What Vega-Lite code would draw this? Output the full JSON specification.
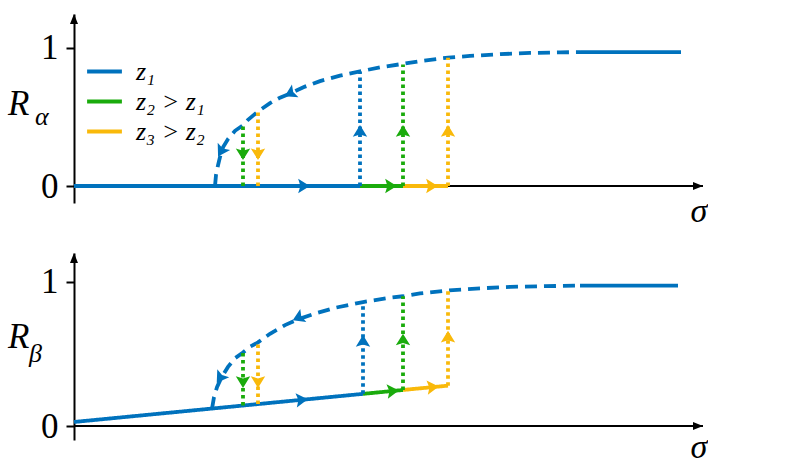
{
  "$schema": "https://vega.github.io/schema/vega-lite/v6.json",
  "padding": {"left": 8, "top": 14, "right": 0, "bottom": 0},
  "spacing": 50,
  "bounds": "flush",
  "config": {"view": {"stroke": null}},
  "resolve": {"scale": {"color": "independent", "strokeDash": "independent", "x": "independent", "y": "independent"}, "legend": {"color": "independent", "strokeDash": "independent"}},
  "datasets": {
    "topLines": [
      {"seg": "base_b", "i": 0, "s": 0, "r": 0, "series": "z₁", "sty": "solid"},
      {"seg": "base_b", "i": 1, "s": 2.86, "r": 0, "series": "z₁", "sty": "solid"},
      {"seg": "base_g", "i": 0, "s": 2.86, "r": 0, "series": "z₂ > z₁", "sty": "solid"},
      {"seg": "base_g", "i": 1, "s": 3.29, "r": 0, "series": "z₂ > z₁", "sty": "solid"},
      {"seg": "base_y", "i": 0, "s": 3.29, "r": 0, "series": "z₃ > z₂", "sty": "solid"},
      {"seg": "base_y", "i": 1, "s": 3.74, "r": 0, "series": "z₃ > z₂", "sty": "solid"},
      {"seg": "plat", "i": 0, "s": 5.07, "r": 0.97, "series": "z₁", "sty": "solid"},
      {"seg": "plat", "i": 1, "s": 6.07, "r": 0.97, "series": "z₁", "sty": "solid"},
      {"seg": "curve", "i": 0, "s": 1.41, "r": 0, "series": "z₁", "sty": "dashed"},
      {"seg": "curve", "i": 1, "s": 1.42, "r": 0.08, "series": "z₁", "sty": "dashed"},
      {"seg": "curve", "i": 2, "s": 1.44, "r": 0.15, "series": "z₁", "sty": "dashed"},
      {"seg": "curve", "i": 3, "s": 1.46, "r": 0.21, "series": "z₁", "sty": "dashed"},
      {"seg": "curve", "i": 4, "s": 1.49, "r": 0.28, "series": "z₁", "sty": "dashed"},
      {"seg": "curve", "i": 5, "s": 1.54, "r": 0.34, "series": "z₁", "sty": "dashed"},
      {"seg": "curve", "i": 6, "s": 1.61, "r": 0.4, "series": "z₁", "sty": "dashed"},
      {"seg": "curve", "i": 7, "s": 1.69, "r": 0.44, "series": "z₁", "sty": "dashed"},
      {"seg": "curve", "i": 8, "s": 1.74, "r": 0.48, "series": "z₁", "sty": "dashed"},
      {"seg": "curve", "i": 9, "s": 1.84, "r": 0.54, "series": "z₁", "sty": "dashed"},
      {"seg": "curve", "i": 10, "s": 1.96, "r": 0.6, "series": "z₁", "sty": "dashed"},
      {"seg": "curve", "i": 11, "s": 2.06, "r": 0.64, "series": "z₁", "sty": "dashed"},
      {"seg": "curve", "i": 12, "s": 2.16, "r": 0.67, "series": "z₁", "sty": "dashed"},
      {"seg": "curve", "i": 13, "s": 2.31, "r": 0.72, "series": "z₁", "sty": "dashed"},
      {"seg": "curve", "i": 14, "s": 2.46, "r": 0.76, "series": "z₁", "sty": "dashed"},
      {"seg": "curve", "i": 15, "s": 2.66, "r": 0.8, "series": "z₁", "sty": "dashed"},
      {"seg": "curve", "i": 16, "s": 2.86, "r": 0.83, "series": "z₁", "sty": "dashed"},
      {"seg": "curve", "i": 17, "s": 3.06, "r": 0.86, "series": "z₁", "sty": "dashed"},
      {"seg": "curve", "i": 18, "s": 3.29, "r": 0.885, "series": "z₁", "sty": "dashed"},
      {"seg": "curve", "i": 19, "s": 3.46, "r": 0.905, "series": "z₁", "sty": "dashed"},
      {"seg": "curve", "i": 20, "s": 3.74, "r": 0.93, "series": "z₁", "sty": "dashed"},
      {"seg": "curve", "i": 21, "s": 3.96, "r": 0.942, "series": "z₁", "sty": "dashed"},
      {"seg": "curve", "i": 22, "s": 4.26, "r": 0.955, "series": "z₁", "sty": "dashed"},
      {"seg": "curve", "i": 23, "s": 4.56, "r": 0.964, "series": "z₁", "sty": "dashed"},
      {"seg": "curve", "i": 24, "s": 4.86, "r": 0.968, "series": "z₁", "sty": "dashed"},
      {"seg": "curve", "i": 25, "s": 5.07, "r": 0.97, "series": "z₁", "sty": "dashed"},
      {"seg": "up_b", "i": 0, "s": 2.86, "r": 0, "series": "z₁", "sty": "dotted"},
      {"seg": "up_b", "i": 1, "s": 2.86, "r": 0.83, "series": "z₁", "sty": "dotted"},
      {"seg": "up_g", "i": 0, "s": 3.29, "r": 0, "series": "z₂ > z₁", "sty": "dotted"},
      {"seg": "up_g", "i": 1, "s": 3.29, "r": 0.88, "series": "z₂ > z₁", "sty": "dotted"},
      {"seg": "up_y", "i": 0, "s": 3.74, "r": 0, "series": "z₃ > z₂", "sty": "dotted"},
      {"seg": "up_y", "i": 1, "s": 3.74, "r": 0.93, "series": "z₃ > z₂", "sty": "dotted"},
      {"seg": "dn_g", "i": 0, "s": 1.69, "r": 0, "series": "z₂ > z₁", "sty": "dotted"},
      {"seg": "dn_g", "i": 1, "s": 1.69, "r": 0.44, "series": "z₂ > z₁", "sty": "dotted"},
      {"seg": "dn_y", "i": 0, "s": 1.84, "r": 0, "series": "z₃ > z₂", "sty": "dotted"},
      {"seg": "dn_y", "i": 1, "s": 1.84, "r": 0.54, "series": "z₃ > z₂", "sty": "dotted"}
    ],
    "botLines": [
      {"seg": "base_b", "i": 0, "s": 0, "r": 0.028, "series": "z₁", "sty": "solid"},
      {"seg": "base_b", "i": 1, "s": 2.89, "r": 0.223, "series": "z₁", "sty": "solid"},
      {"seg": "base_g", "i": 0, "s": 2.89, "r": 0.223, "series": "z₂ > z₁", "sty": "solid"},
      {"seg": "base_g", "i": 1, "s": 3.29, "r": 0.25, "series": "z₂ > z₁", "sty": "solid"},
      {"seg": "base_y", "i": 0, "s": 3.29, "r": 0.25, "series": "z₃ > z₂", "sty": "solid"},
      {"seg": "base_y", "i": 1, "s": 3.74, "r": 0.28, "series": "z₃ > z₂", "sty": "solid"},
      {"seg": "plat", "i": 0, "s": 5.06, "r": 0.974, "series": "z₁", "sty": "solid"},
      {"seg": "plat", "i": 1, "s": 6.04, "r": 0.974, "series": "z₁", "sty": "solid"},
      {"seg": "curve", "i": 0, "s": 1.38, "r": 0.12, "series": "z₁", "sty": "dashed"},
      {"seg": "curve", "i": 1, "s": 1.4, "r": 0.2, "series": "z₁", "sty": "dashed"},
      {"seg": "curve", "i": 2, "s": 1.43, "r": 0.27, "series": "z₁", "sty": "dashed"},
      {"seg": "curve", "i": 3, "s": 1.47, "r": 0.33, "series": "z₁", "sty": "dashed"},
      {"seg": "curve", "i": 4, "s": 1.54, "r": 0.41, "series": "z₁", "sty": "dashed"},
      {"seg": "curve", "i": 5, "s": 1.61, "r": 0.47, "series": "z₁", "sty": "dashed"},
      {"seg": "curve", "i": 6, "s": 1.69, "r": 0.51, "series": "z₁", "sty": "dashed"},
      {"seg": "curve", "i": 7, "s": 1.76, "r": 0.55, "series": "z₁", "sty": "dashed"},
      {"seg": "curve", "i": 8, "s": 1.84, "r": 0.58, "series": "z₁", "sty": "dashed"},
      {"seg": "curve", "i": 9, "s": 1.96, "r": 0.64, "series": "z₁", "sty": "dashed"},
      {"seg": "curve", "i": 10, "s": 2.11, "r": 0.7, "series": "z₁", "sty": "dashed"},
      {"seg": "curve", "i": 11, "s": 2.24, "r": 0.74, "series": "z₁", "sty": "dashed"},
      {"seg": "curve", "i": 12, "s": 2.41, "r": 0.78, "series": "z₁", "sty": "dashed"},
      {"seg": "curve", "i": 13, "s": 2.61, "r": 0.82, "series": "z₁", "sty": "dashed"},
      {"seg": "curve", "i": 14, "s": 2.89, "r": 0.86, "series": "z₁", "sty": "dashed"},
      {"seg": "curve", "i": 15, "s": 3.16, "r": 0.89, "series": "z₁", "sty": "dashed"},
      {"seg": "curve", "i": 16, "s": 3.29, "r": 0.9, "series": "z₁", "sty": "dashed"},
      {"seg": "curve", "i": 17, "s": 3.46, "r": 0.92, "series": "z₁", "sty": "dashed"},
      {"seg": "curve", "i": 18, "s": 3.74, "r": 0.94, "series": "z₁", "sty": "dashed"},
      {"seg": "curve", "i": 19, "s": 4.06, "r": 0.955, "series": "z₁", "sty": "dashed"},
      {"seg": "curve", "i": 20, "s": 4.36, "r": 0.965, "series": "z₁", "sty": "dashed"},
      {"seg": "curve", "i": 21, "s": 4.71, "r": 0.97, "series": "z₁", "sty": "dashed"},
      {"seg": "curve", "i": 22, "s": 5.06, "r": 0.974, "series": "z₁", "sty": "dashed"},
      {"seg": "up_b", "i": 0, "s": 2.89, "r": 0.223, "series": "z₁", "sty": "dotted"},
      {"seg": "up_b", "i": 1, "s": 2.89, "r": 0.86, "series": "z₁", "sty": "dotted"},
      {"seg": "up_g", "i": 0, "s": 3.29, "r": 0.25, "series": "z₂ > z₁", "sty": "dotted"},
      {"seg": "up_g", "i": 1, "s": 3.29, "r": 0.9, "series": "z₂ > z₁", "sty": "dotted"},
      {"seg": "up_y", "i": 0, "s": 3.74, "r": 0.28, "series": "z₃ > z₂", "sty": "dotted"},
      {"seg": "up_y", "i": 1, "s": 3.74, "r": 0.94, "series": "z₃ > z₂", "sty": "dotted"},
      {"seg": "dn_g", "i": 0, "s": 1.69, "r": 0.142, "series": "z₂ > z₁", "sty": "dotted"},
      {"seg": "dn_g", "i": 1, "s": 1.69, "r": 0.51, "series": "z₂ > z₁", "sty": "dotted"},
      {"seg": "dn_y", "i": 0, "s": 1.84, "r": 0.152, "series": "z₃ > z₂", "sty": "dotted"},
      {"seg": "dn_y", "i": 1, "s": 1.84, "r": 0.58, "series": "z₃ > z₂", "sty": "dotted"}
    ],
    "topArrows": [
      {"s": 2.3, "r": 0, "ang": 0, "series": "z₁"},
      {"s": 3.17, "r": 0, "ang": 0, "series": "z₂ > z₁"},
      {"s": 3.58, "r": 0, "ang": 0, "series": "z₃ > z₂"},
      {"s": 2.86, "r": 0.4, "ang": -90, "series": "z₁"},
      {"s": 3.29, "r": 0.4, "ang": -90, "series": "z₂ > z₁"},
      {"s": 3.74, "r": 0.4, "ang": -90, "series": "z₃ > z₂"},
      {"s": 1.69, "r": 0.23, "ang": 90, "series": "z₂ > z₁"},
      {"s": 1.84, "r": 0.23, "ang": 90, "series": "z₃ > z₂"},
      {"s": 1.47, "r": 0.25, "ang": 120, "series": "z₁"},
      {"s": 2.16, "r": 0.67, "ang": 153, "series": "z₁"}
    ],
    "botArrows": [
      {"s": 2.28, "r": 0.182, "ang": -5.5, "series": "z₁"},
      {"s": 3.19, "r": 0.243, "ang": -5.5, "series": "z₂ > z₁"},
      {"s": 3.59, "r": 0.27, "ang": -5.5, "series": "z₃ > z₂"},
      {"s": 2.89, "r": 0.59, "ang": -90, "series": "z₁"},
      {"s": 3.29, "r": 0.6, "ang": -90, "series": "z₂ > z₁"},
      {"s": 3.74, "r": 0.62, "ang": -90, "series": "z₃ > z₂"},
      {"s": 1.69, "r": 0.305, "ang": 90, "series": "z₂ > z₁"},
      {"s": 1.84, "r": 0.305, "ang": 90, "series": "z₃ > z₂"},
      {"s": 1.46, "r": 0.333, "ang": 124, "series": "z₁"},
      {"s": 2.24, "r": 0.75, "ang": 155, "series": "z₁"}
    ]
  },
  "vconcat": [
    {
      "width": 629,
      "height": 189,
      "layer": [
        {
          "data": {"values": [{"s": 0, "s2": 6.29, "r": 0}]},
          "mark": {"type": "rule", "color": "black", "strokeWidth": 2},
          "encoding": {
            "x": {"field": "s", "type": "quantitative", "scale": {"domain": [0, 6.29], "nice": false, "zero": false}, "axis": null},
            "x2": {"field": "s2"},
            "y": {"field": "r", "type": "quantitative", "scale": {"domain": [-0.123, 1.246], "nice": false, "zero": false},
              "axis": {"values": [0, 1], "format": "d", "title": null, "grid": false, "domainColor": "black", "domainWidth": 2, "tickColor": "black", "tickWidth": 2, "tickSize": 8, "labelFont": "Liberation Serif", "labelFontSize": 35, "labelColor": "black", "labelPadding": 8}}
          }
        },
        {
          "data": {"values": [{"s": 0, "r": 1.246, "ang": -90}, {"s": 6.29, "r": 0, "ang": 0}]},
          "mark": {"type": "point", "filled": true, "color": "black", "opacity": 1, "shape": "M0,0L-1,-0.4L-1,0.4Z", "size": 400},
          "encoding": {
            "x": {"field": "s", "type": "quantitative"},
            "y": {"field": "r", "type": "quantitative"},
            "angle": {"field": "ang", "type": "quantitative", "scale": null}
          }
        },
        {
          "data": {"name": "topLines"},
          "mark": {"type": "line", "strokeWidth": 3.8, "strokeCap": "butt"},
          "encoding": {
            "x": {"field": "s", "type": "quantitative"},
            "y": {"field": "r", "type": "quantitative"},
            "detail": {"field": "seg"},
            "order": {"field": "i", "type": "quantitative"},
            "color": {"field": "series", "type": "nominal",
              "scale": {"domain": ["z₁", "z₂ > z₁", "z₃ > z₂"], "range": ["#0072bd", "#1aab0c", "#f9b90a"]},
              "legend": {"orient": "none", "legendX": 14, "legendY": 41, "title": null, "symbolType": "M-1.2,0H1.2", "symbolStrokeWidth": 4, "symbolSize": 841, "labelFont": "Liberation Serif", "labelFontStyle": "italic", "labelFontSize": 26, "labelColor": "black", "labelOffset": 15, "rowPadding": 0, "padding": 0}},
            "strokeDash": {"field": "sty", "type": "nominal", "scale": {"domain": ["solid", "dashed", "dotted"], "range": [[1, 0], [12, 7], [3.5, 3.5]]}, "legend": null}
          }
        },
        {
          "data": {"name": "topArrows"},
          "mark": {"type": "point", "filled": true, "opacity": 1, "shape": "M0.65,0L-0.65,-0.8L-0.4,0L-0.65,0.8Z", "size": 324},
          "encoding": {
            "x": {"field": "s", "type": "quantitative"},
            "y": {"field": "r", "type": "quantitative"},
            "angle": {"field": "ang", "type": "quantitative", "scale": null},
            "color": {"field": "series", "type": "nominal"}
          }
        },
        {
          "data": {"values": [{"s": -0.66, "r": 0.514, "t": "R"}]},
          "mark": {"type": "text", "font": "Liberation Serif", "fontStyle": "italic", "fontSize": 35, "align": "left", "baseline": "alphabetic", "color": "black"},
          "encoding": {"x": {"field": "s", "type": "quantitative"}, "y": {"field": "r", "type": "quantitative"}, "text": {"field": "t"}}
        },
        {
          "data": {"values": [{"s": -0.39, "r": 0.445, "t": "α"}]},
          "mark": {"type": "text", "font": "Liberation Serif", "fontStyle": "italic", "fontSize": 26, "align": "left", "baseline": "alphabetic", "color": "black"},
          "encoding": {"x": {"field": "s", "type": "quantitative"}, "y": {"field": "r", "type": "quantitative"}, "text": {"field": "t"}}
        },
        {
          "data": {"values": [{"s": 6.25, "r": -0.26, "t": "σ"}]},
          "mark": {"type": "text", "font": "Liberation Serif", "fontStyle": "italic", "fontSize": 34, "align": "center", "baseline": "alphabetic", "color": "black"},
          "encoding": {"x": {"field": "s", "type": "quantitative"}, "y": {"field": "r", "type": "quantitative"}, "text": {"field": "t"}}
        }
      ]
    },
    {
      "width": 629,
      "height": 187,
      "layer": [
        {
          "data": {"values": [{"s": 0, "s2": 6.29, "r": 0}]},
          "mark": {"type": "rule", "color": "black", "strokeWidth": 2},
          "encoding": {
            "x": {"field": "s", "type": "quantitative", "scale": {"domain": [0, 6.29], "nice": false, "zero": false}, "axis": null},
            "x2": {"field": "s2"},
            "y": {"field": "r", "type": "quantitative", "scale": {"domain": [-0.097, 1.2], "nice": false, "zero": false},
              "axis": {"values": [0, 1], "format": "d", "title": null, "grid": false, "domainColor": "black", "domainWidth": 2, "tickColor": "black", "tickWidth": 2, "tickSize": 8, "labelFont": "Liberation Serif", "labelFontSize": 35, "labelColor": "black", "labelPadding": 8}}
          }
        },
        {
          "data": {"values": [{"s": 0, "r": 1.2, "ang": -90}, {"s": 6.29, "r": 0, "ang": 0}]},
          "mark": {"type": "point", "filled": true, "color": "black", "opacity": 1, "shape": "M0,0L-1,-0.4L-1,0.4Z", "size": 400},
          "encoding": {
            "x": {"field": "s", "type": "quantitative"},
            "y": {"field": "r", "type": "quantitative"},
            "angle": {"field": "ang", "type": "quantitative", "scale": null}
          }
        },
        {
          "data": {"name": "botLines"},
          "mark": {"type": "line", "strokeWidth": 3.8, "strokeCap": "butt"},
          "encoding": {
            "x": {"field": "s", "type": "quantitative"},
            "y": {"field": "r", "type": "quantitative"},
            "detail": {"field": "seg"},
            "order": {"field": "i", "type": "quantitative"},
            "color": {"field": "series", "type": "nominal",
              "scale": {"domain": ["z₁", "z₂ > z₁", "z₃ > z₂"], "range": ["#0072bd", "#1aab0c", "#f9b90a"]},
              "legend": null},
            "strokeDash": {"field": "sty", "type": "nominal", "scale": {"domain": ["solid", "dashed", "dotted"], "range": [[1, 0], [12, 7], [3.5, 3.5]]}, "legend": null}
          }
        },
        {
          "data": {"name": "botArrows"},
          "mark": {"type": "point", "filled": true, "opacity": 1, "shape": "M0.65,0L-0.65,-0.8L-0.4,0L-0.65,0.8Z", "size": 324},
          "encoding": {
            "x": {"field": "s", "type": "quantitative"},
            "y": {"field": "r", "type": "quantitative"},
            "angle": {"field": "ang", "type": "quantitative", "scale": null},
            "color": {"field": "series", "type": "nominal", "legend": null}
          }
        },
        {
          "data": {"values": [{"s": -0.66, "r": 0.54, "t": "R"}]},
          "mark": {"type": "text", "font": "Liberation Serif", "fontStyle": "italic", "fontSize": 35, "align": "left", "baseline": "alphabetic", "color": "black"},
          "encoding": {"x": {"field": "s", "type": "quantitative"}, "y": {"field": "r", "type": "quantitative"}, "text": {"field": "t"}}
        },
        {
          "data": {"values": [{"s": -0.45, "r": 0.444, "t": "β"}]},
          "mark": {"type": "text", "font": "Liberation Serif", "fontStyle": "italic", "fontSize": 26, "align": "left", "baseline": "alphabetic", "color": "black"},
          "encoding": {"x": {"field": "s", "type": "quantitative"}, "y": {"field": "r", "type": "quantitative"}, "text": {"field": "t"}}
        },
        {
          "data": {"values": [{"s": 6.25, "r": -0.222, "t": "σ"}]},
          "mark": {"type": "text", "font": "Liberation Serif", "fontStyle": "italic", "fontSize": 34, "align": "center", "baseline": "alphabetic", "color": "black"},
          "encoding": {"x": {"field": "s", "type": "quantitative"}, "y": {"field": "r", "type": "quantitative"}, "text": {"field": "t"}}
        }
      ]
    }
  ]
}
